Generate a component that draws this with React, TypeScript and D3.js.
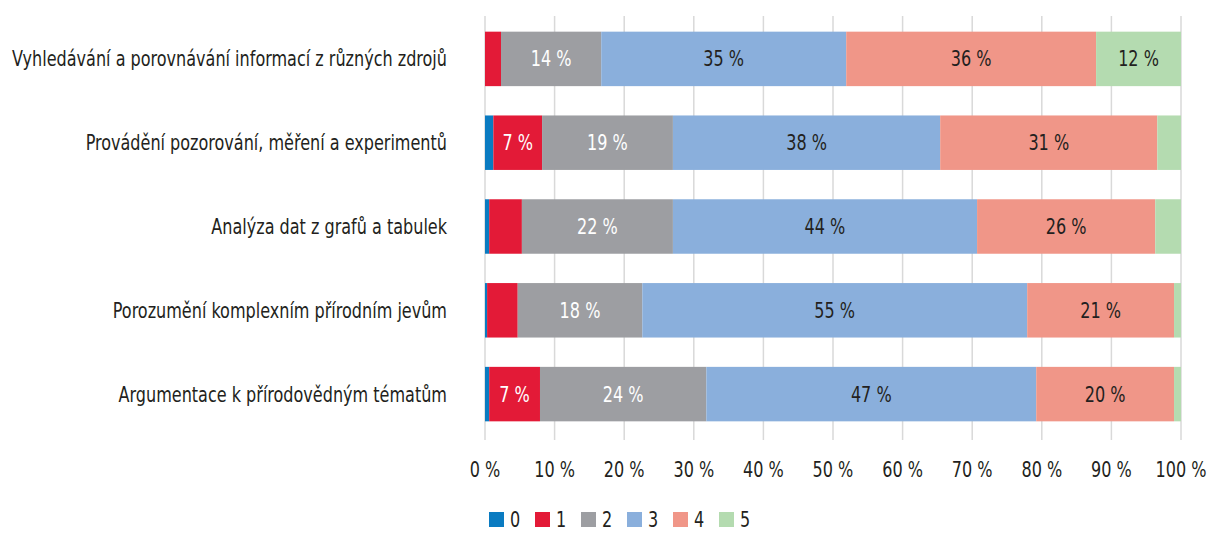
import React from "react";
import * as d3 from "d3";

const categories = [
  "Vyhledávání a porovnávání informací z různých zdrojů",
  "Provádění pozorování, měření a experimentů",
  "Analýza dat z grafů a tabulek",
  "Porozumění komplexním přírodním jevům",
  "Argumentace k přírodovědným tématům",
];

const levels = ["0", "1", "2", "3", "4", "5"];

// share (%) of each level per category
const level0 = [0.0, 1.2, 0.6, 0.3, 0.6];
const level1 = [2.3, 7.0, 4.7, 4.4, 7.3];
const level2 = [14.4, 18.8, 21.7, 17.9, 23.9];
const level3 = [35.2, 38.4, 43.7, 55.3, 47.4];
const level4 = [35.9, 31.2, 25.6, 21.1, 19.8];
const level5 = [12.2, 3.4, 3.7, 1.0, 1.0];

const xTicks = [0, 10, 20, 30, 40, 50, 60, 70, 80, 90, 100];

const colors = ["#0a7bc1", "#e31a37", "#9d9ea2", "#8aafdc", "#f09688", "#b4dbb0"];
const labelColors = ["#fff", "#fff", "#fff", "#231f20", "#231f20", "#231f20"];

const W = 1208;
const H = 534;
const FONT = "'DejaVu Sans Condensed', 'DejaVu Sans', sans-serif";
const SQUEEZE = 0.85; // narrow the glyphs to imitate the condensed face

const Label = ({ x, y, anchor = "middle", fill = "#231f20", size = 21, dy = "0", children }: any) => (
  <g transform={`translate(${x},${y}) scale(${SQUEEZE},1)`}>
    <text textAnchor={anchor} dy={dy} fontSize={size} fill={fill}>
      {children}
    </text>
  </g>
);

const App = () => {
  const series = [level0, level1, level2, level3, level4, level5];
  const rows = categories.map((c, i) => {
    const r: any = { cat: c };
    levels.forEach((l, k) => (r[l] = series[k][i]));
    return r;
  });
  const stacked = d3.stack<any>().keys(levels)(rows);

  const x = d3.scaleLinear().domain([0, 100]).range([485, 1181]);
  const y = d3.scaleBand().domain(categories).range([17, 436]).paddingInner(0.35).paddingOuter(0.175);

  return (
    <div style={{ position: "absolute", left: 0, top: 0 }}>
      <svg width={W} height={H} style={{ display: "block", background: "#fff" }} fontFamily={FONT}>
        {xTicks.map((t) => (
          <line key={t} x1={x(t)} x2={x(t)} y1={16} y2={440} stroke="#d9d9d9" strokeWidth={1.5} />
        ))}
        {stacked.map((s, k) => (
          <g key={s.key}>
            {s.map((d, i) => {
              const x0 = x(d[0]);
              const x1 = x(d[1]);
              const v = d[1] - d[0];
              const yy = y(categories[i]) as number;
              return (
                <g key={i}>
                  <rect x={x0} y={yy} width={Math.max(0, x1 - x0)} height={y.bandwidth()} fill={colors[k]} />
                  {v >= 6 && (
                    <Label x={(x0 + x1) / 2} y={yy + y.bandwidth() / 2} dy="0.36em" fill={labelColors[k]}>
                      {`${Math.round(v)} %`}
                    </Label>
                  )}
                </g>
              );
            })}
          </g>
        ))}
        {categories.map((c) => (
          <Label key={c} x={447} y={(y(c) as number) + y.bandwidth() / 2} dy="0.36em" anchor="end">
            {c}
          </Label>
        ))}
        {xTicks.map((t) => (
          <Label key={t} x={x(t)} y={477}>
            {`${t} %`}
          </Label>
        ))}
        {levels.map((l, k) => (
          <g key={l} transform={`translate(${489 + k * 46},512)`}>
            <rect width={15} height={15} fill={colors[k]} />
            <Label x={21} y={15} anchor="start">
              {l}
            </Label>
          </g>
        ))}
      </svg>
    </div>
  );
};

export default App;
